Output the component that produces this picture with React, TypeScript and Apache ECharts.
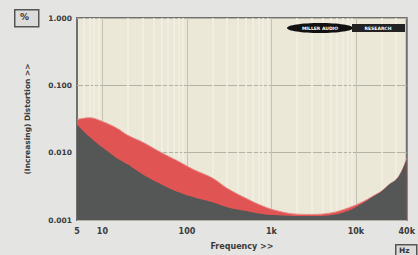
import React, { useEffect, useRef } from "react";
import * as echarts from "echarts";

const freqs = [5, 7, 10, 15, 20, 30, 50, 80, 120, 200, 300, 500, 800, 1200, 2000, 3000, 5000, 8000, 12000, 16000, 20000, 25000, 30000, 35000, 40000];
const redValues = [0.031, 0.033, 0.029, 0.0229, 0.0181, 0.0143, 0.0100, 0.0074, 0.0056, 0.0042, 0.00295, 0.0021, 0.0016, 0.00136, 0.00122, 0.00121, 0.00127, 0.0015, 0.00186, 0.00228, 0.00268, 0.0034, 0.0040, 0.0054, 0.0082];
const darkValues = [0.026, 0.0172, 0.0119, 0.0082, 0.00666, 0.00475, 0.00338, 0.00258, 0.00218, 0.00184, 0.00155, 0.00136, 0.00122, 0.00118, 0.00115, 0.00115, 0.00118, 0.00136, 0.00178, 0.00224, 0.00266, 0.0034, 0.0040, 0.0054, 0.0082];
const minorGridFreqs = [6, 7, 8, 9, 20, 30, 40, 50, 60, 70, 80, 90, 200, 300, 400, 500, 600, 700, 800, 900, 2000, 3000, 4000, 5000, 6000, 7000, 8000, 9000, 20000, 30000];
const majorGridFreqs = [10, 100, 1000, 10000];

export default function App() {
  const ref = useRef<HTMLDivElement>(null);
  useEffect(() => {
    if (!ref.current) return;
    const chart = echarts.init(ref.current, null, { renderer: "svg" });
    const font = "DejaVu Sans";
    const pts = (vals: number[]) => freqs.map((f, i) => [f, vals[i]]);
    chart.setOption({
      animation: false,
      backgroundColor: "#e4e4e2",
      textStyle: { fontFamily: font },
      grid: {
        left: 77, right: 10, top: 18, bottom: 33,
        show: true, backgroundColor: "#ebe8d8", borderColor: "#707070", borderWidth: 2,
      },
      xAxis: {
        type: "log", logBase: 10, min: 5, max: 40000,
        name: "Frequency >>", nameLocation: "middle", nameGap: 22,
        nameTextStyle: { fontSize: 8, fontWeight: "bold", color: "#3a3a3a", fontFamily: font },
        axisLine: { show: false }, axisTick: { show: false },
        splitLine: { show: false },
        axisLabel: {
          fontSize: 8, fontWeight: "bold", color: "#3a3a3a", margin: 7, fontFamily: font,
          formatter: (v: number) => {
            const r = Math.round(v);
            return r >= 1000 ? r / 1000 + "k" : String(r);
          },
        },
      },
      yAxis: {
        type: "log", logBase: 10, min: 0.001, max: 1,
        name: "(Increasing) Distortion >>", nameLocation: "middle", nameGap: 46,
        nameTextStyle: { fontSize: 7.5, fontWeight: "bold", color: "#3a3a3a", fontFamily: font },
        axisLine: { show: false }, axisTick: { show: false },
        splitLine: { show: true, lineStyle: { color: "#b4b2a4", width: 1 } },
        axisLabel: {
          fontSize: 7.5, fontWeight: "bold", color: "#3a3a3a", margin: 5, fontFamily: font,
          formatter: (v: number) => v.toFixed(3),
        },
      },
      series: [
        {
          type: "line", data: [], z: 1, silent: true,
          markLine: {
            z: 1, silent: true, symbol: "none", label: { show: false },
            lineStyle: { color: "#f3f1e5", width: 1.5, type: "solid" },
            data: minorGridFreqs.map((f) => ({ xAxis: f })),
          },
        },
        {
          type: "line", data: [], z: 1, silent: true,
          markLine: {
            z: 1, silent: true, symbol: "none", label: { show: false },
            lineStyle: { color: "#c4c2b4", width: 1, type: "solid" },
            data: majorGridFreqs.map((f) => ({ xAxis: f })),
          },
        },
        {
          type: "line", data: pts(redValues), smooth: 0.4, symbol: "none", z: 3,
          lineStyle: { width: 1, color: "#e88a86" },
          areaStyle: { color: "#e05454", opacity: 1, origin: "start" },
        },
        {
          type: "line", data: pts(darkValues), smooth: 0.4, symbol: "none", z: 4,
          lineStyle: { width: 0, color: "#545756" },
          areaStyle: { color: "#545756", opacity: 1, origin: "start" },
        },
      ],
      graphic: [
        {
          type: "rect", left: 14, top: 9, z: 100,
          shape: { width: 24, height: 17 },
          style: { fill: "#dcdcda", stroke: "#555", lineWidth: 1.5 },
        },
        {
          type: "text", left: 20, top: 12, z: 101,
          style: { text: "%", fontSize: 9, fontWeight: "bold", fill: "#333", fontFamily: font },
        },
        {
          type: "rect", left: 395, top: 244, z: 100,
          shape: { width: 21, height: 13 },
          style: { fill: "#dcdcda", stroke: "#555", lineWidth: 1.5 },
        },
        {
          type: "text", left: 399, top: 246, z: 101,
          style: { text: "Hz", fontSize: 7.5, fontWeight: "bold", fill: "#333", fontFamily: font },
        },
        {
          type: "ellipse", z: 100, shape: { cx: 320, cy: 28, rx: 33, ry: 5 },
          style: { fill: "#111" },
        },
        {
          type: "rect", z: 100, shape: { x: 352, y: 24, width: 53, height: 8 },
          style: { fill: "#222" },
        },
        {
          type: "text", x: 320, y: 28, z: 101,
          style: { text: "MILLER AUDIO", fontSize: 4.5, fontWeight: "bold", fill: "#fff", align: "center", verticalAlign: "middle", fontFamily: font },
        },
        {
          type: "text", x: 378, y: 28, z: 101,
          style: { text: "RESEARCH", fontSize: 4.5, fontWeight: "bold", fill: "#fff", align: "center", verticalAlign: "middle", fontFamily: font },
        },
      ],
    });
    return () => chart.dispose();
  }, []);
  return <div ref={ref} style={{ position: "fixed", left: 0, top: 0, width: 418, height: 255 }} />;
}
